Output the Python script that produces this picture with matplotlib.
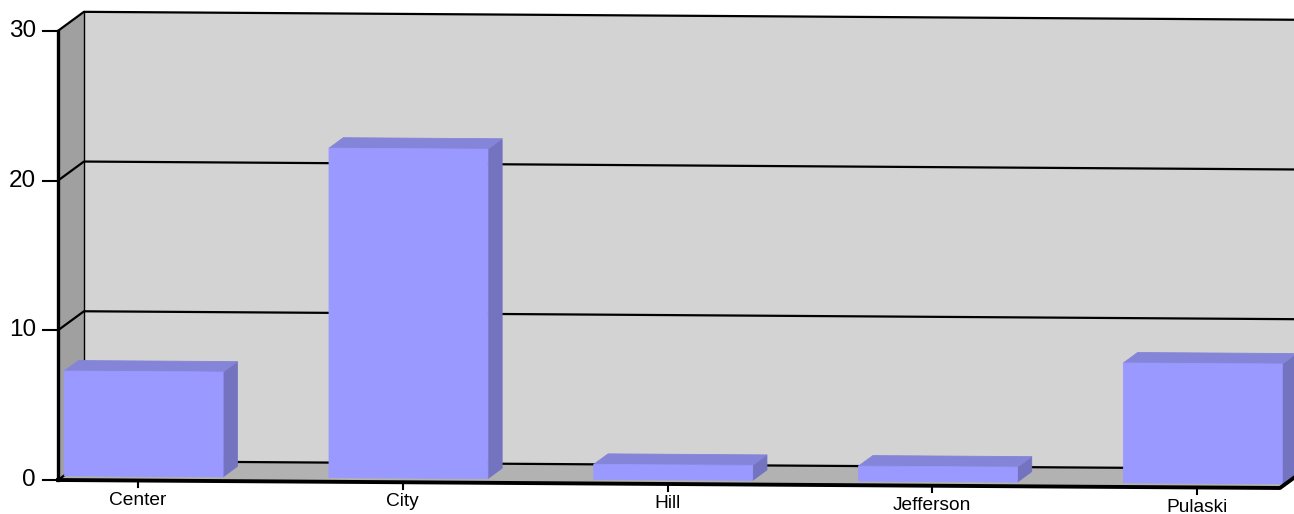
import matplotlib
matplotlib.use('Agg')
import matplotlib.pyplot as plt
from matplotlib.patches import Polygon

plt.rcParams['font.family'] = ['Liberation Sans', 'DejaVu Sans']

# data
categories = ['Center', 'City', 'Hill', 'Jefferson', 'Pulaski']
values = [7, 22, 1, 1, 8]
yticks = [0, 10, 20, 30]

# 3d look (category units / value units)
X0 = -0.302      # left wall front edge
XR = 4.313       # right front corner of floor
DX = 0.098       # depth offset in x
DY = 1.27        # depth offset in y
K = 0.1158       # slight tilt of the whole box
YMAX = 30
BW = 0.6
D0, D1 = 0.22, 0.77

def P(x, y, d=0.0):
    return (x + d * DX, y + d * DY - K * (x - X0))

fig = plt.figure(figsize=(12.94, 5.14), dpi=100)
ax = fig.add_axes([0, 0, 1, 1])
ax.set_xlim(-0.521, 4.366)
ax.set_ylim(-2.271, 32.06)
ax.axis('off')

# walls + floor
back = [P(X0, 0, 1), P(XR + 0.2, 0, 1), P(XR + 0.2, YMAX, 1), P(X0, YMAX, 1)]
ax.add_patch(Polygon(back, closed=True, fc='#d3d3d3', ec='none', zorder=1))
left = [P(X0, 0, 0), P(X0, 0, 1), P(X0, YMAX, 1), P(X0, YMAX, 0)]
ax.add_patch(Polygon(left, closed=True, fc='#a0a0a0', ec='none', zorder=1))
floor = [P(X0, 0, 0), P(XR, 0, 0), P(XR, 0, 1), P(X0, 0, 1)]
ax.add_patch(Polygon(floor, closed=True, fc='#b2b2b2', ec='none', zorder=1))

# grid lines on back and left wall
for t in yticks:
    a = P(X0, t, 0)
    b = P(X0, t, 1)
    c = P(XR + 0.2, t, 1)
    ax.plot([a[0], b[0], c[0]], [a[1], b[1], c[1]], color='black', lw=1.6, zorder=2)

# back wall left edge
a = P(X0, 0, 1)
b = P(X0, YMAX, 1)
ax.plot([a[0], b[0]], [a[1], b[1]], color='black', lw=1.0, zorder=2)

# front edges (left axis + floor edge)
a = P(X0, 0, 0)
b = P(X0, YMAX, 0)
ax.plot([a[0], b[0]], [a[1], b[1]], color='black', lw=2.4, zorder=5)
c = P(XR, 0, 0)
d = P(XR, 0, 1)
ax.plot([a[0], c[0], d[0]], [a[1], c[1], d[1]], color='black', lw=2.8, zorder=5)

# bars
for i, v in enumerate(values):
    xl = i - BW / 2
    xr = i + BW / 2
    front = [P(xl, 0, D0), P(xr, 0, D0), P(xr, v, D0), P(xl, v, D0)]
    top = [P(xl, v, D0), P(xr, v, D0), P(xr, v, D1), P(xl, v, D1)]
    side = [P(xr, 0, D0), P(xr, 0, D1), P(xr, v, D1), P(xr, v, D0)]
    ax.add_patch(Polygon(side, closed=True, fc='#7373c0', ec='#7373c0', lw=0.6, zorder=3))
    ax.add_patch(Polygon(top, closed=True, fc='#8484d8', ec='#8484d8', lw=0.6, zorder=3))
    ax.add_patch(Polygon(front, closed=True, fc='#9999ff', ec='#9999ff', lw=0.6, zorder=4))

# x ticks and labels
for i, name in enumerate(categories):
    a = P(i, 0, 0)
    b = P(i, -0.45, 0)
    ax.plot([a[0], b[0]], [a[1], b[1]], color='black', lw=1.5, zorder=5)
    t = P(i, -0.75, 0)
    ax.text(t[0], t[1], name, ha='center', va='top', fontsize=13.8, zorder=6)

# y ticks and labels
for t in yticks:
    ax.plot([X0 - 0.057, X0], [t, t], color='black', lw=1.5, zorder=5)
    ax.text(X0 - 0.083, t, str(t), ha='right', va='center', fontsize=17.5, zorder=6)

fig.savefig('out.png', dpi=100)
